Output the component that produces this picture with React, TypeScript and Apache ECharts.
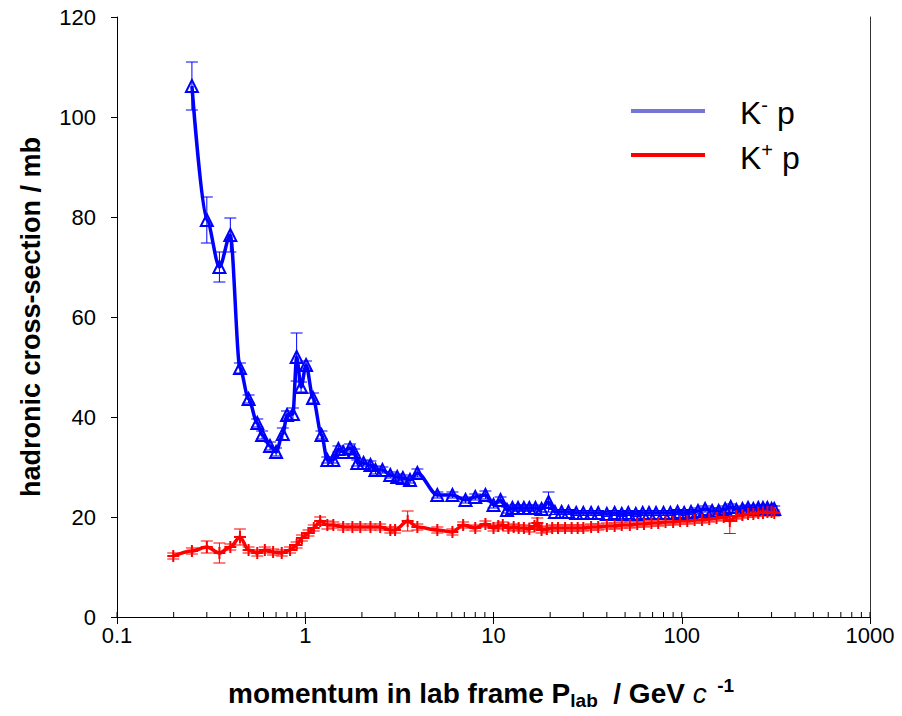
import React, { useEffect, useRef } from 'react';
import * as echarts from 'echarts';

// K- p : momentum (GeV/c), cross-section (mb), error (mb)
const kmP = [0.25, 0.3, 0.35, 0.4, 0.45, 0.5, 0.556, 0.59, 0.65, 0.7, 0.76, 0.8, 0.86, 0.9, 0.95, 1.01, 1.1, 1.22, 1.31, 1.41, 1.5, 1.59, 1.73, 1.82, 1.89, 2.04, 2.22, 2.36, 2.57, 2.83, 3.08, 3.3, 3.6, 3.94, 5.03, 6.05, 7.1, 8.0, 9.06, 10.0, 10.9, 11.8, 12.6, 13.5, 14.5, 15.5, 16.7, 18.0, 19.6, 21.2, 23, 25, 27.5, 30, 33, 36, 40, 44, 48, 52, 57, 62, 67, 73, 80, 87, 95, 103, 112, 122, 133, 145, 157, 170, 182, 195, 210, 225, 240, 255, 270, 285, 300, 310];
const kmS = [106.2, 79.4, 70.0, 76.4, 49.8, 43.6, 38.8, 36.4, 34.2, 33.0, 36.6, 40.4, 40.6, 52.0, 46.0, 50.4, 43.8, 36.4, 31.4, 31.4, 33.6, 33.0, 33.8, 33.0, 30.8, 30.8, 30.4, 29.4, 29.4, 28.4, 28.0, 27.8, 27.4, 28.8, 24.4, 24.4, 23.4, 24.0, 24.4, 22.4, 23.4, 21.4, 21.8, 21.8, 21.8, 21.8, 21.8, 21.6, 23.0, 21.0, 21.0, 21.0, 20.8, 20.8, 20.8, 20.8, 20.6, 20.8, 20.6, 20.8, 20.6, 20.8, 20.8, 20.8, 20.8, 20.8, 21.0, 20.8, 21.0, 21.2, 21.6, 21.2, 21.2, 21.6, 22.0, 21.4, 21.6, 21.8, 21.6, 21.8, 21.8, 21.8, 21.6, 21.6];
const kmE = [4.8, 4.6, 3.0, 3.4, 1.0, 0.8, 0.8, 0.8, 0.8, 0.8, 1.2, 0.8, 1.2, 4.8, 1.0, 0.8, 1.0, 0.8, 0.6, 0.6, 0.6, 0.6, 0.8, 0.6, 0.6, 0.6, 0.8, 0.8, 0.6, 0.6, 0.6, 0.6, 0.6, 0.8, 0.6, 0.6, 0.6, 0.6, 0.8, 0.6, 0.6, 0.6, 0.6, 0.6, 0.6, 0.6, 0.6, 0.6, 2.0, 0.5, 0.5, 0.5, 0.5, 0.5, 0.5, 0.5, 0.5, 0.5, 0.5, 0.5, 0.5, 0.5, 0.5, 0.5, 0.5, 0.5, 0.5, 0.5, 0.5, 0.6, 0.6, 0.6, 0.6, 0.6, 0.6, 0.6, 0.6, 0.6, 0.6, 0.6, 0.6, 0.6, 0.6, 0.6];

// K+ p
const kpP = [0.199, 0.25, 0.3, 0.35, 0.4, 0.45, 0.5, 0.556, 0.61, 0.675, 0.75, 0.83, 0.9, 0.96, 1.04, 1.11, 1.2, 1.31, 1.41, 1.59, 1.78, 1.96, 2.22, 2.5, 2.83, 3.0, 3.5, 3.94, 5.03, 6.05, 6.9, 8.0, 9.06, 10.0, 10.6, 11.2, 12.0, 12.8, 13.6, 14.5, 15.5, 16.5, 17.1, 18.0, 19.2, 20.5, 22, 24, 26, 28, 30, 33, 36, 40, 44, 48, 53, 58, 63, 69, 75, 82, 90, 98, 107, 117, 128, 140, 153, 167, 180, 195, 210, 225, 240, 255, 270, 285, 300, 310];
const kpS = [12.2, 13.2, 14.0, 12.8, 14.0, 16.0, 13.4, 12.8, 13.4, 13.0, 12.8, 13.4, 14.4, 15.8, 16.8, 17.8, 19.2, 18.4, 18.4, 18.0, 18.0, 18.0, 18.0, 18.0, 17.4, 17.4, 19.2, 18.0, 17.4, 17.0, 18.4, 17.8, 18.6, 17.8, 18.2, 18.4, 17.8, 18.0, 17.8, 17.8, 17.6, 18.2, 18.8, 17.4, 17.6, 17.8, 17.8, 17.8, 17.8, 17.8, 17.8, 18.0, 18.0, 18.2, 18.2, 18.4, 18.4, 18.6, 18.6, 18.8, 18.8, 19.0, 19.0, 19.2, 19.2, 19.4, 19.4, 19.6, 19.8, 20.0, 19.2, 20.2, 20.4, 20.6, 20.6, 20.8, 20.8, 21.0, 21.0, 20.8];
const kpE = [0.6, 0.6, 1.2, 2.0, 0.6, 1.6, 0.6, 0.6, 0.6, 0.6, 0.6, 0.6, 0.6, 0.6, 0.6, 0.6, 0.8, 0.8, 0.6, 0.6, 0.6, 0.6, 0.6, 0.6, 0.6, 0.6, 2.0, 0.6, 0.6, 0.6, 0.6, 0.6, 0.6, 0.6, 0.6, 0.6, 0.6, 0.6, 0.6, 0.6, 0.6, 0.6, 1.0, 0.6, 0.6, 0.6, 0.6, 0.6, 0.6, 0.6, 0.6, 0.6, 0.6, 0.6, 0.6, 0.6, 0.6, 0.6, 0.6, 0.6, 0.6, 0.6, 0.6, 0.6, 0.6, 0.6, 0.6, 0.6, 0.6, 0.6, 2.5, 0.6, 0.6, 0.6, 0.6, 0.6, 0.6, 0.6, 0.6, 0.6];

const yTicks = [0, 20, 40, 60, 80, 100, 120];
const xMajor = [0.1, 1, 10, 100, 1000];
const xMajorLabels = ['0.1', '1', '10', '100', '1000'];
const xMinor = [0.2, 0.3, 0.4, 0.5, 0.6, 0.7, 0.8, 0.9, 2, 3, 4, 5, 6, 7, 8, 9, 20, 30, 40, 50, 60, 70, 80, 90, 200, 300, 400, 500, 600, 700, 800, 900];

const BLUE = '#0000ff';
const RED = '#ff0000';
const FONT = 'Liberation Sans, Arial, sans-serif';

export default function App() {
  const ref = useRef<HTMLDivElement>(null);
  useEffect(() => {
    const chart = echarts.init(ref.current!, null, { renderer: 'svg' });

    const errRender = (color: string) => (params: any, api: any) => {
      const x = api.value(0), y = api.value(1), e = api.value(2);
      const t = api.coord([x, y + e]);
      const b = api.coord([x, y - e]);
      const hw = 6;
      const st = { stroke: color, lineWidth: 1 };
      return {
        type: 'group',
        children: [
          { type: 'line', shape: { x1: t[0], y1: t[1], x2: b[0], y2: b[1] }, style: st },
          { type: 'line', shape: { x1: t[0] - hw, y1: t[1], x2: t[0] + hw, y2: t[1] }, style: st },
          { type: 'line', shape: { x1: b[0] - hw, y1: b[1], x2: b[0] + hw, y2: b[1] }, style: st },
        ],
      };
    };

    const tickRender = (len: number) => (params: any, api: any) => {
      const p = api.coord([api.value(0), 0]);
      return {
        type: 'line',
        shape: { x1: p[0], y1: p[1], x2: p[0], y2: p[1] - len },
        style: { stroke: '#000', lineWidth: 1 },
      };
    };

    const plus = 'path://M-1,-6L1,-6L1,-1L6,-1L6,1L1,1L1,6L-1,6L-1,1L-6,1L-6,-1L-1,-1Z';

    chart.setOption({
      animation: false,
      grid: { left: 117, right: 32, top: 17, bottom: 99 },
      xAxis: {
        type: 'log',
        logBase: 10,
        min: 0.1,
        max: 1000,
        axisLine: { lineStyle: { color: '#000', width: 1 } },
        axisTick: { show: true, length: 7, lineStyle: { color: '#000' } },
        minorTick: { show: false },
        splitLine: { show: false },
        axisLabel: {
          color: '#000',
          fontSize: 22,
          fontFamily: FONT,
          margin: 7,
          formatter: (v: number) => {
            const i = xMajor.findIndex((m) => Math.abs(m - v) / m < 1e-6);
            return i >= 0 ? xMajorLabels[i] : '';
          },
        },
      },
      yAxis: [
        {
          type: 'value',
          min: 0,
          max: 120,
          interval: 20,
          axisLine: { show: true, lineStyle: { color: '#000', width: 1 } },
          axisTick: { show: true, length: 6, lineStyle: { color: '#000' } },
          splitLine: { show: false },
          axisLabel: {
            color: '#000',
            fontSize: 22,
            fontFamily: FONT,
            margin: 21,
            formatter: (v: number) => (yTicks.includes(v) ? String(v) : ''),
          },
          name: 'hadronic cross-section / mb',
          nameLocation: 'middle',
          nameGap: 73,
          nameTextStyle: { color: '#000', fontSize: 27, fontWeight: 'bold', fontFamily: FONT },
        },
        {
          type: 'value',
          position: 'right',
          min: 0,
          max: 120,
          interval: 20,
          axisLine: { show: true, lineStyle: { color: '#333', width: 1 } },
          axisTick: { show: false },
          axisLabel: { show: false },
          splitLine: { show: false },
        },
      ],
      series: [
        {
          type: 'custom',
          name: 'minorTicks',
          data: xMinor.map((v) => [v, 0]),
          renderItem: tickRender(5),
          silent: true,
          z: 3,
        },
        {
          type: 'custom',
          name: 'majorTicksIn',
          data: xMajor.map((v) => [v, 0]),
          renderItem: tickRender(5),
          silent: true,
          z: 3,
        },
        {
          type: 'custom',
          name: 'errKm',
          data: kmP.map((p, i) => [p, kmS[i], kmE[i]]),
          renderItem: errRender(BLUE),
          silent: true,
          z: 2,
        },
        {
          type: 'custom',
          name: 'errKp',
          data: kpP.map((p, i) => [p, kpS[i], kpE[i]]),
          renderItem: errRender(RED),
          silent: true,
          z: 2,
        },
        {
          type: 'line',
          name: 'K- p',
          data: kmP.map((p, i) => [p, kmS[i]]),
          smooth: 0.3,
          smoothMonotone: 'x',
          symbol: 'triangle',
          symbolSize: 12,
          showAllSymbol: true,
          lineStyle: { color: BLUE, width: 3.5 },
          itemStyle: { color: 'rgba(255,255,255,0)', borderColor: BLUE, borderWidth: 2 },
          z: 4,
        },
        {
          type: 'line',
          name: 'K+ p',
          data: kpP.map((p, i) => [p, kpS[i]]),
          smooth: 0.3,
          smoothMonotone: 'x',
          symbol: plus,
          symbolSize: 12,
          showAllSymbol: true,
          lineStyle: { color: RED, width: 3.5 },
          itemStyle: { color: RED },
          z: 4,
        },
      ],
      graphic: [
        { type: 'line', shape: { x1: 631, y1: 111, x2: 705, y2: 111 }, style: { stroke: '#7575d6', lineWidth: 4 } },
        { type: 'line', shape: { x1: 631, y1: 155, x2: 705, y2: 155 }, style: { stroke: RED, lineWidth: 4 } },
        {
          type: 'text',
          x: 740,
          y: 113,
          style: {
            text: '{k|K}{s|-}{k| p}',
            verticalAlign: 'middle',
            rich: {
              k: { fontSize: 32, fontFamily: FONT, fill: '#000', lineHeight: 36 },
              s: { fontSize: 20, fontFamily: FONT, fill: '#000', lineHeight: 18, verticalAlign: 'top' },
            },
          },
        },
        {
          type: 'text',
          x: 740,
          y: 158,
          style: {
            text: '{k|K}{s|+}{k| p}',
            verticalAlign: 'middle',
            rich: {
              k: { fontSize: 32, fontFamily: FONT, fill: '#000', lineHeight: 36 },
              s: { fontSize: 20, fontFamily: FONT, fill: '#000', lineHeight: 18, verticalAlign: 'top' },
            },
          },
        },
        {
          type: 'text',
          x: 228,
          y: 693,
          style: {
            text: '{m|momentum in lab frame P}{sub|lab}{m|  / GeV }{c|c}{sup|  -1}',
            verticalAlign: 'middle',
            rich: {
              m: { fontSize: 28, fontWeight: 'bold', fontFamily: FONT, fill: '#000', lineHeight: 34 },
              sub: { fontSize: 19, fontWeight: 'bold', fontFamily: FONT, fill: '#000', lineHeight: 18, verticalAlign: 'bottom' },
              c: { fontSize: 28, fontStyle: 'italic', fontFamily: FONT, fill: '#000', lineHeight: 34 },
              sup: { fontSize: 19, fontWeight: 'bold', fontFamily: FONT, fill: '#000', lineHeight: 16, verticalAlign: 'top' },
            },
          },
        },
      ],
    });
    return () => chart.dispose();
  }, []);
  return <div ref={ref} style={{ position: 'fixed', left: 0, top: 0, width: 902, height: 716, background: '#fff' }} />;
}
